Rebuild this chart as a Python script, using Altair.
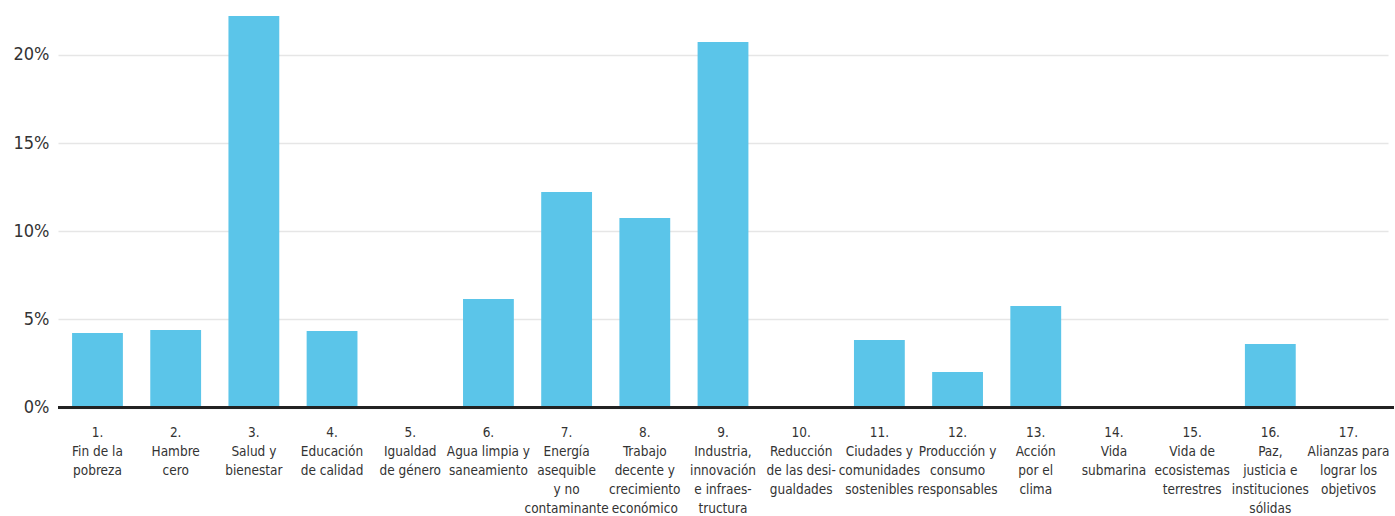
import altair as alt
import pandas as pd

labels = [
    "1.|Fin de la|pobreza",
    "2.|Hambre|cero",
    "3.|Salud y|bienestar",
    "4.|Educación|de calidad",
    "5.|Igualdad|de género",
    "6.|Agua limpia y|saneamiento",
    "7.|Energía|asequible|y no|contaminante",
    "8.|Trabajo|decente y|crecimiento|económico",
    "9.|Industria,|innovación|e infraes-|tructura",
    "10.|Reducción|de las desi-|gualdades",
    "11.|Ciudades y|comunidades|sostenibles",
    "12.|Producción y|consumo|responsables",
    "13.|Acción|por el|clima",
    "14.|Vida|submarina",
    "15.|Vida de|ecosistemas|terrestres",
    "16.|Paz,|justicia e|instituciones|sólidas",
    "17.|Alianzas para|lograr los|objetivos",
]
values = [4.22, 4.40, 22.2, 4.34, 0, 6.15, 12.22, 10.75, 20.73, 0, 3.83, 2.01, 5.76, 0, 0, 3.60, 0]
y_ticks = [0, 5, 10, 15, 20]

df = pd.DataFrame({"label": labels, "value": values})

font = "DejaVu Sans Condensed"

bars = alt.Chart(df).mark_bar(color="#5bc5e9").encode(
    x=alt.X(
        "label:N",
        sort=labels,
        title=None,
        scale=alt.Scale(paddingInner=0.35, paddingOuter=0.18),
        axis=alt.Axis(
            labelExpr="split(datum.label, '|')",
            labelAngle=0,
            labelAlign="center",
            labelBaseline="top",
            labelFont=font,
            labelFontSize=13.5,
            labelLineHeight=19,
            labelColor="#333333",
            labelPadding=18,
            ticks=False,
            tickSize=0,
            domain=False,
            grid=False,
            labelOverlap=False,
            labelLimit=200,
        ),
    ),
    y=alt.Y(
        "value:Q",
        title=None,
        scale=alt.Scale(domain=[0, 23], nice=False),
        axis=alt.Axis(
            values=y_ticks,
            labelExpr="datum.value + '%'",
            labelFont=font,
            labelFontSize=18,
            labelColor="#333333",
            labelPadding=9,
            ticks=False,
            domain=False,
            gridColor="#e6e6e6",
            gridWidth=1.5,
        ),
    ),
)

baseline = alt.Chart(df).mark_rule(color="#222222", strokeWidth=2).encode(
    y=alt.datum(0),
    x=alt.value(0),
    x2=alt.value(1336),
)

chart = alt.layer(bars, baseline).properties(
    width=1330,
    height=405.5,
    background="white",
    autosize=alt.AutoSizeParams(type="none"),
    padding={"left": 58, "top": 2, "right": 7, "bottom": 108},
).configure_view(strokeWidth=0, stroke=None)

chart.save("out.html", embed_options={"renderer": "svg", "actions": False})
